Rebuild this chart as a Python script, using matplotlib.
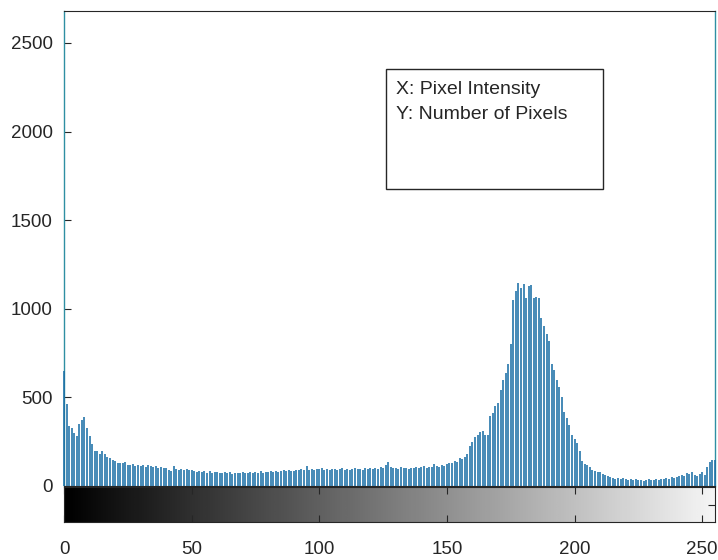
import numpy as np
import matplotlib
matplotlib.use("Agg")
import matplotlib.pyplot as plt
from matplotlib.patches import Rectangle

plt.rcParams['font.family'] = ['Liberation Sans', 'DejaVu Sans']

# ---- data: pixel counts for intensities 0..255 ----
intensity = list(range(256))
counts = [
    650, 460, 340, 330, 300, 280, 350, 375, 390, 330,             # 0-9
    280, 235, 200, 195, 180, 200, 180, 165, 160, 145,             # 10-19
    140, 132, 130, 128, 137, 120, 118, 122, 115, 118,             # 20-29
    112, 116, 110, 118, 112, 108, 114, 104, 106, 100,             # 30-39
    102, 88, 86, 112, 95, 92, 96, 90, 94, 88,                     # 40-49
    92, 84, 80, 86, 78, 82, 76, 84, 74, 80,                       # 50-59
    78, 76, 72, 78, 74, 80, 70, 76, 74, 72,                       # 60-69
    78, 74, 76, 80, 72, 78, 76, 82, 74, 78,                       # 70-79
    80, 82, 78, 86, 80, 84, 88, 82, 90, 84,                       # 80-89
    86, 92, 88, 94, 90, 115, 92, 96, 90, 98,                      # 90-99
    94, 100, 92, 96, 90, 98, 94, 88, 96, 100,                     # 100-109
    92, 98, 90, 96, 102, 94, 98, 92, 100, 96,                     # 110-119
    104, 98, 102, 96, 108, 104, 120, 135, 108, 102,               # 120-129
    104, 98, 106, 100, 104, 98, 104, 100, 108, 102,               # 130-139
    106, 112, 104, 110, 106, 126, 112, 108, 118, 114,             # 140-149
    124, 132, 128, 140, 136, 160, 150, 165, 182, 228,             # 150-159
    250, 278, 290, 305, 312, 290, 285, 395, 410, 450,             # 160-169
    470, 540, 598, 640, 690, 800, 1050, 1100, 1145, 1115,         # 170-179
    1142, 1058, 1130, 1135, 1058, 1068, 1062, 950, 905, 860,      # 180-189
    820, 690, 655, 600, 560, 500, 420, 385, 345, 290,             # 190-199
    265, 240, 195, 140, 125, 118, 108, 92, 82, 80,                # 200-209
    78, 70, 62, 56, 52, 45, 42, 46, 40, 44,                       # 210-219
    38, 36, 40, 34, 38, 32, 36, 30, 34, 38,                       # 220-229
    32, 36, 40, 34, 42, 38, 46, 40, 52, 44,                       # 230-239
    48, 54, 62, 58, 76, 70, 80, 62, 54, 70,                       # 240-249
    80, 62, 110, 135, 145, 148,                                   # 250-255
]
y_ticks = [0, 500, 1000, 1500, 2000, 2500]
x_ticks = [0, 50, 100, 150, 200, 250]
note_lines = ["X: Pixel Intensity", "Y: Number of Pixels"]

W, H = 718, 560
fig = plt.figure(figsize=(W / 100, H / 100), dpi=100)

left = 64 / W
right = 715 / W
ax = fig.add_axes([left, 1 - 486 / H, right - left, (486 - 11) / H])
cax = fig.add_axes([left, 1 - 522 / H, right - left, (522 - 487) / H])

stem_color = '#1c6fa6'
ax.vlines(intensity, 0, counts, color=stem_color, lw=1.15, zorder=3,
          clip_on=False)
ax.set_xlim(0, 255)
ax.set_ylim(0, 2680)
ax.set_yticks(y_ticks)
ax.set_yticklabels([str(v) for v in y_ticks])
ax.set_xticks([])
ax.tick_params(axis='y', direction='in', length=5, width=0.8, pad=8,
               labelsize=13.5, labelcolor='#262626', color='#262626')
for s in ['left', 'right']:
    ax.spines[s].set_color('#2f8fa3')
    ax.spines[s].set_linewidth(1.0)
for s in ['top', 'bottom']:
    ax.spines[s].set_color('#262626')
    ax.spines[s].set_linewidth(0.8)

# grayscale colorbar
grad = np.linspace(0, 0.96, 256).reshape(1, -1)
cax.imshow(grad, cmap='gray', aspect='auto', extent=[0, 255, 0, 1],
           vmin=0, vmax=1)
cax.set_xlim(0, 255)
cax.set_ylim(0, 1)
cax.set_xticks(x_ticks)
cax.set_xticklabels([str(v) for v in x_ticks])
cax.tick_params(axis='x', direction='in', top=True, bottom=True, length=5,
                width=0.8, pad=14, labelsize=13.5, labelcolor='#262626',
                color='#262626')
cax.set_yticks([0.5])
cax.set_yticklabels([])
cax.tick_params(axis='y', direction='in', left=False, right=True, length=5,
                width=0.8, color='#262626')
for s in cax.spines.values():
    s.set_color('#262626')
    s.set_linewidth(0.8)

# annotation text box
bx0, by0, bx1, by1 = 386, 69, 603, 189
fig.add_artist(Rectangle((bx0 / W, 1 - by1 / H), (bx1 - bx0) / W, (by1 - by0) / H,
                         transform=fig.transFigure, facecolor='white',
                         edgecolor='#262626', lw=1.0, zorder=5))
fig.text(396 / W, 1 - 89 / H, note_lines[0], fontsize=14, color='#262626',
         va='center', ha='left', zorder=6)
fig.text(396 / W, 1 - 115 / H, note_lines[1], fontsize=14, color='#262626',
         va='center', ha='left', zorder=6)

fig.savefig('out.png', dpi=100)
